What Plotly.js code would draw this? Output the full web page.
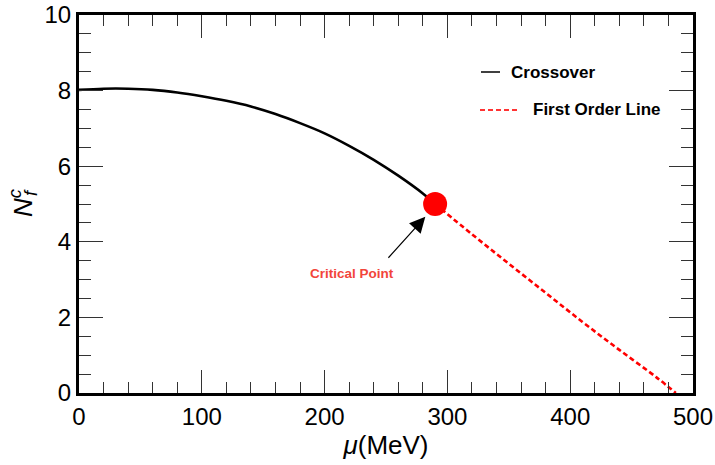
<!DOCTYPE html>
<html>
<head>
<meta charset="utf-8">
<script src="https://cdn.plot.ly/plotly-3.0.1.min.js"></script>
<style>html,body{margin:0;padding:0;background:#fff;}#chart{width:715px;height:465px;}</style>
</head>
<body>
<div id="chart"></div>
<script>
// Crossover line (mu in MeV, N_f^c)
const crossoverMu = [0, 20, 40, 60, 80, 100, 120, 140, 160, 180, 200, 220, 240, 260, 280, 290];
const crossoverN  = [8.02, 8.05, 8.05, 8.02, 7.95, 7.85, 7.73, 7.58, 7.38, 7.14, 6.87, 6.54, 6.17, 5.75, 5.28, 5.0];
// First order line
const firstOrderMu = [290, 320, 350, 380, 410, 440, 470, 486];
const firstOrderN  = [5.0, 4.2, 3.42, 2.65, 1.88, 1.14, 0.42, 0.0];
// Critical point
const criticalMu = [290];
const criticalN  = [5.0];
const criticalLabel = 'Critical Point';
const arrowTip = {mu: 282, n: 4.66};
const arrowTail = {mu: 249.5, n: 3.49};
const labelPos = {mu: 222, n: 3.15};
// Axes
const xTickVals = [0, 100, 200, 300, 400, 500];
const yTickVals = [0, 2, 4, 6, 8, 10];
const legendNames = ['Crossover', 'First Order Line'];

const font = 'Liberation Sans, Arial, Helvetica, sans-serif';

const traces = [
  {x: crossoverMu, y: crossoverN, mode: 'lines', name: legendNames[0],
   line: {color: '#000', width: 2.6, shape: 'spline'}, showlegend: false, hoverinfo: 'skip'},
  {x: firstOrderMu, y: firstOrderN, mode: 'lines', name: legendNames[1],
   line: {color: '#ff0000', width: 2.6, dash: '5px,3px', shape: 'spline'}, showlegend: false, hoverinfo: 'skip'},
  {x: criticalMu, y: criticalN, mode: 'markers', name: criticalLabel,
   marker: {color: '#ff0000', size: 24}, showlegend: false, hoverinfo: 'skip'}
];

const axisCommon = {
  showgrid: false, zeroline: false, showline: true, linecolor: '#000', linewidth: 3,
  mirror: 'allticks', ticks: 'inside', tickcolor: '#333', tickwidth: 1,
  tickfont: {family: font, size: 24, color: '#000'}
};

const layout = {
  width: 715, height: 465,
  margin: {l: 79, r: 22, t: 15, b: 72},
  paper_bgcolor: '#fff', plot_bgcolor: '#fff',
  xaxis: Object.assign({}, axisCommon, {
    range: [0, 500], tickvals: xTickVals, ticklen: 23,
    minor: {dtick: 20, ticklen: 11, tickcolor: '#333', tickwidth: 1, ticks: 'inside'},
    title: {text: '<i>μ</i>(MeV)', font: {family: font, size: 26, color: '#000'}, standoff: 8}
  }),
  yaxis: Object.assign({}, axisCommon, {
    range: [0, 10], tickvals: yTickVals, ticklen: 24,
    minor: {dtick: 0.5, ticklen: 12, tickcolor: '#333', tickwidth: 1, ticks: 'inside'},
    title: {text: '<i>N</i><sup><i><span style="letter-spacing:-7px">c</span></i></sup><sub><i>f</i></sub>',
            font: {family: font, size: 26, color: '#000'}, standoff: 5}
  }),
  shapes: [
    {type: 'line', xref: 'paper', yref: 'paper', x0: (481-79)/614, x1: (500-79)/614,
     y0: (393-72)/378, y1: (393-72)/378, line: {color: '#000', width: 1.5}},
    {type: 'line', xref: 'paper', yref: 'paper', x0: (480-79)/614, x1: (520-79)/614,
     y0: (393-110)/378, y1: (393-110)/378, line: {color: '#ff3333', width: 2, dash: '5px,3px'}}
  ],
  annotations: [
    {xref: 'paper', yref: 'paper', x: (509-79)/614, y: (393-72)/378, xanchor: 'left', yanchor: 'middle',
     text: '<b>' + legendNames[0] + '</b>', showarrow: false, font: {family: font, size: 17, color: '#000'}},
    {xref: 'paper', yref: 'paper', x: (531-79)/614, y: (393-110)/378, xanchor: 'left', yanchor: 'middle',
     text: '<b>' + legendNames[1] + '</b>', showarrow: false, font: {family: font, size: 17, color: '#000'}},
    {x: arrowTip.mu, y: arrowTip.n, ax: arrowTail.mu, ay: arrowTail.n, axref: 'x', ayref: 'y',
     xref: 'x', yref: 'y', text: ' ', showarrow: true, arrowhead: 2, arrowsize: 2.6, arrowwidth: 1.2, arrowcolor: '#000'},
    {x: labelPos.mu, y: labelPos.n, xref: 'x', yref: 'y', text: '<b>' + criticalLabel + '</b>', showarrow: false,
     font: {family: font, size: 13.5, color: '#f2453a'}}
  ],
  showlegend: false,
  hovermode: false
};

Plotly.newPlot('chart', traces, layout, {displayModeBar: false, staticPlot: true});
</script>
</body>
</html>
